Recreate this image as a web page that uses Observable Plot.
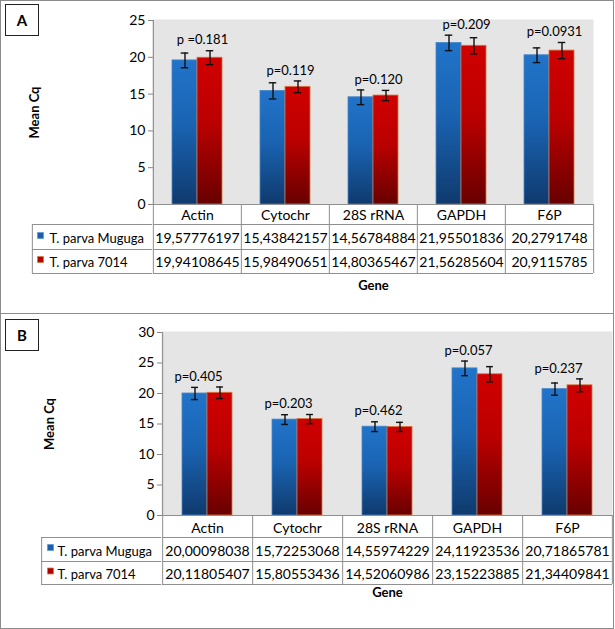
<!DOCTYPE html>
<html>
<head>
<meta charset="utf-8">
<script src="https://cdn.jsdelivr.net/npm/d3@7"></script>
<script src="https://cdn.jsdelivr.net/npm/@observablehq/plot@0.6"></script>
<style>
  body { margin: 0; background: #fff; }
  #root { position: relative; width: 615px; height: 629px; background: #fff; font-family: Lato, "DejaVu Sans", sans-serif; }
  .panel { position: absolute; left: 0; }
  .border { position: absolute; box-sizing: border-box; border: 1.5px solid #8c8c8c; pointer-events: none; }
  .tag { position: absolute; box-sizing: border-box; border: 1.5px solid #222; width: 34px; height: 32px;
         font: bold 15px Lato, sans-serif; display: flex; align-items: center; justify-content: center; color: #000; background: #fff; }
</style>
</head>
<body>
<div id="root"></div>
<script>
// ---------------- data ----------------
const genes = ["Actin", "Cytochr", "28S rRNA", "GAPDH", "F6P"];
const series = ["T. parva Muguga", "T. parva 7014"];

// Panel A
const meanA_Muguga = [19.57776197, 15.43842157, 14.56784884, 21.95501836, 20.2791748];
const meanA_7014   = [19.94108645, 15.98490651, 14.80365467, 21.56285604, 20.9115785];
const errA_Muguga  = [1.0, 1.1, 1.0, 1.05, 1.0];
const errA_7014    = [0.95, 0.8, 0.7, 1.1, 1.1];
const pA = ["p =0.181", "p=0.119", "p=0.120", "p=0.209", "p=0.0931"];
const yTicksA = [0, 5, 10, 15, 20, 25];

// Panel B
const meanB_Muguga = [20.00098038, 15.72253068, 14.55974229, 24.11923536, 20.71865781];
const meanB_7014   = [20.11805407, 15.80553436, 14.52060986, 23.15223885, 21.34409841];
const errB_Muguga  = [1.0, 0.8, 0.8, 1.2, 1.0];
const errB_7014    = [0.95, 0.75, 0.75, 1.25, 1.05];
const pB = ["p=0.405", "p=0.203", "p=0.462", "p=0.057", "p=0.237"];
const yTicksB = [0, 5, 10, 15, 20, 25, 30];

// ---------------- drawing ----------------
const GRAY = "#868686";
const TABLE = "#8f8f8f";
const fmt = v => String(v).replace(".", ",");

function makePanel(cfg) {
  const {id, means, errs, pLabels, yTicks, W, H, ml, mr, mt, mb, rows, legendLeft,
         swatchX, textX, textDy, swatchDy, geneDy, meanCqX, pDx} = cfg;
  const yMax = yTicks[yTicks.length - 1];
  const data = genes.flatMap((g, i) => series.map((s, j) => ({gene: g, series: s, value: means[j][i], err: errs[j][i]})));
  const pData = genes.map((g, i) => ({gene: g, p: pLabels[i],
    top: Math.max(...data.filter(d => d.gene === g).map(d => d.value + d.err))}));

  const colW = (W - ml - mr) / genes.length;
  const po = 0.74;
  const step = colW / (series.length + 2 * po);
  const edge = (po + 0.5) * step;          // from band centre of first series to facet edge
  const capInset = (step - 8) / 2;
  const last = rows[rows.length - 1];

  const defs = () => {
    const d = document.createElementNS("http://www.w3.org/2000/svg", "defs");
    d.innerHTML = `
      <linearGradient id="blue${id}" x1="0" y1="0" x2="0" y2="1">
        <stop offset="0" stop-color="#2174ca"/><stop offset="0.45" stop-color="#1a63b2"/><stop offset="1" stop-color="#0f3a6d"/>
      </linearGradient>
      <linearGradient id="red${id}" x1="0" y1="0" x2="0" y2="1">
        <stop offset="0" stop-color="#d00000"/><stop offset="0.45" stop-color="#bb0000"/><stop offset="1" stop-color="#680000"/>
      </linearGradient>`;
    return d;
  };

  const first = () => genes[0];
  const T = {fill: "#000", lineAnchor: "middle"};
  const marks = [
    defs,
    // plot-area background
    Plot.rect(genes, {fx: d => d, y1: 0, y2: yMax, fill: "#e5e5e5", stroke: "#e5e5e5"}),
    // y axis line
    Plot.ruleX([genes[0]], {fx: d => d, x: () => series[0], dx: -edge, y1: 0, y2: yMax, stroke: GRAY}),
    Plot.axisY({ticks: yTicks, tickSize: 5, tickPadding: 3, stroke: GRAY, fill: "#000", fontSize: 14, label: null, tickFormat: d => d}),
    // bars
    Plot.barY(data.filter(d => d.series === series[0]), {fx: "gene", x: "series", y: "value", fill: `url(#blue${id})`, stroke: "#4a86c8", strokeWidth: 0.8}),
    Plot.barY(data.filter(d => d.series === series[1]), {fx: "gene", x: "series", y: "value", fill: `url(#red${id})`, stroke: "#d8763c", strokeWidth: 0.8}),
    // error bars
    Plot.ruleX(data, {fx: "gene", x: "series", y1: d => d.value - d.err, y2: d => d.value + d.err, stroke: "#111", strokeWidth: 1.4}),
    Plot.tickY(data, {fx: "gene", x: "series", y: d => d.value + d.err, insetLeft: capInset, insetRight: capInset, stroke: "#111", strokeWidth: 1.4}),
    Plot.tickY(data, {fx: "gene", x: "series", y: d => d.value - d.err, insetLeft: capInset, insetRight: capInset, stroke: "#111", strokeWidth: 1.4}),
    // p-values
    Plot.text(pData, {fx: "gene", y: "top", text: "p", dy: -10.5, dx: pDx, fontSize: 13, ...T}),
    // ---- data table ----
    Plot.ruleY([0], {stroke: TABLE}),
    ...rows.map(r => Plot.ruleY([0], {dy: r, stroke: TABLE})),
    Plot.ruleX(genes, {fx: d => d, x: () => series[0], dx: -edge, y1: 0, y2: 0, insetBottom: -last, stroke: TABLE}),
    Plot.ruleX([genes[genes.length - 1]], {fx: d => d, x: () => series[series.length - 1], dx: edge, y1: 0, y2: 0, insetBottom: -last, stroke: TABLE}),
    // legend column of the table
    ...rows.map(r => Plot.ruleY([genes[0]], {fx: d => d, y: () => 0, dy: r, insetLeft: -(ml - legendLeft), insetRight: colW, stroke: TABLE})),
    Plot.ruleX([genes[0]], {fx: d => d, x: () => series[0], dx: -edge - (ml - legendLeft), y1: 0, y2: 0, insetTop: rows[0], insetBottom: -last, stroke: TABLE}),
    // header row (gene names)
    Plot.text(genes, {fx: d => d, text: d => d, frameAnchor: "bottom", dy: textDy[0], fontSize: 14, ...T}),
    // value rows
    ...series.map((s, j) => Plot.text(data.filter(d => d.series === s), {fx: "gene", text: d => fmt(d.value), frameAnchor: "bottom", dy: textDy[j + 1], fontSize: 14, ...T})),
    // legend labels + swatches
    ...series.map((s, j) => Plot.text([s], {fx: first, text: d => d, frameAnchor: "bottom-left", textAnchor: "start", dx: textX - ml, dy: textDy[j + 1], fontSize: 13, ...T})),
    Plot.dot([series[0]], {fx: first, frameAnchor: "bottom-left", dx: swatchX - ml, dy: swatchDy[0], symbol: "square", r: 3.4, fill: "#1c5eaa", stroke: "#5a9ae0", strokeWidth: 0.8}),
    Plot.dot([series[1]], {fx: first, frameAnchor: "bottom-left", dx: swatchX - ml, dy: swatchDy[1], symbol: "square", r: 3.4, fill: "#b00000", stroke: "#e07a3a", strokeWidth: 0.8}),
    // axis titles
    Plot.text(["Mean Cq"], {fx: first, text: d => d, frameAnchor: "left", textAnchor: "middle", dx: meanCqX - ml, rotate: -90, fontSize: 13, fontWeight: "bold", ...T}),
    Plot.text(["Gene"], {fx: () => genes[2], text: d => d, frameAnchor: "bottom", dy: geneDy, fontSize: 13, fontWeight: "bold", ...T})
  ];

  return Plot.plot({
    width: W, height: H,
    marginLeft: ml, marginRight: mr, marginTop: mt, marginBottom: mb,
    style: {fontFamily: "Lato, 'DejaVu Sans', sans-serif", fontSize: "13px", background: "transparent", color: "#000"},
    fx: {domain: genes, padding: 0, axis: null, label: null},
    x: {domain: series, paddingInner: 0, paddingOuter: po, axis: null, label: null},
    y: {domain: [0, yMax], nice: false, label: null},
    marks
  });
}

const root = document.getElementById("root");

function place(svg, top) {
  svg.classList.add("panel");
  svg.style.top = top + "px";
  root.appendChild(svg);
}

const svgA = makePanel({
  id: "A", means: [meanA_Muguga, meanA_7014], errs: [errA_Muguga, errA_7014], pLabels: pA, yTicks: yTicksA,
  W: 615, H: 313, ml: 151, mr: 20, mt: 20, mb: 109,
  rows: [20, 45, 69], legendLeft: 30, swatchX: 38, textX: 47,
  textDy: [11.5, 34, 58.5], swatchDy: [31, 55], geneDy: 81, meanCqX: 32, pDx: 5
});
place(svgA, 0);

const svgB = makePanel({
  id: "B", means: [meanB_Muguga, meanB_7014], errs: [errB_Muguga, errB_7014], pLabels: pB, yTicks: yTicksB,
  W: 615, H: 316, ml: 160, mr: 1, mt: 19, mb: 114,
  rows: [22, 46, 69], legendLeft: 39, swatchX: 48, textX: 55,
  textDy: [13, 36, 59], swatchDy: [32, 55.5], geneDy: 77, meanCqX: 47, pDx: -9
});
place(svgB, 313);

// panel frames and tags
function box(cls, css, text) {
  const d = document.createElement("div");
  d.className = cls;
  Object.assign(d.style, css);
  if (text) d.textContent = text;
  root.appendChild(d);
}
box("border", {left: "0px", top: "0px", width: "614px", height: "314px"});
box("border", {left: "0px", top: "312.5px", width: "614px", height: "316px"});
box("tag", {left: "5px", top: "4px"}, "A");
box("tag", {left: "5px", top: "319px"}, "B");
</script>
</body>
</html>
